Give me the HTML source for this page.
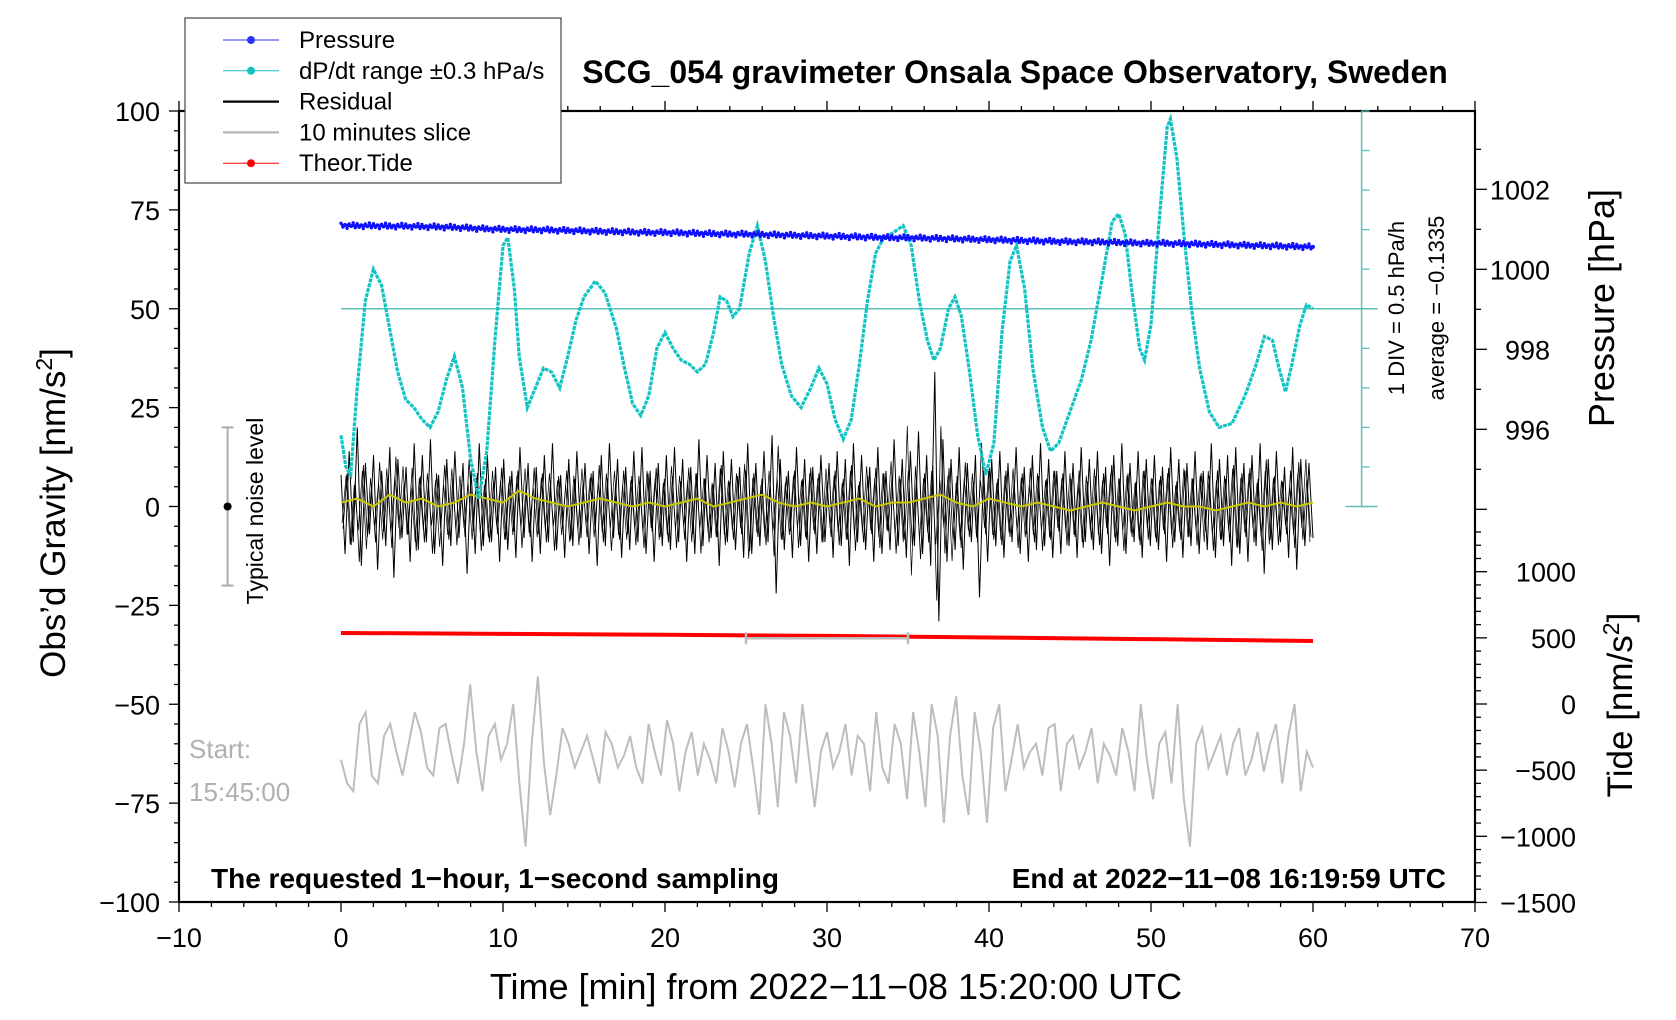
<!DOCTYPE html>
<html><head><meta charset="utf-8"><style>
html,body{margin:0;padding:0;background:#fff}
svg{display:block;font-family:"Liberation Sans",Arial,sans-serif}
</style></head><body>
<svg id="chart" width="1676" height="1020" viewBox="0 0 1676 1020">
<g id="layers"></g>
</svg>
<script>
const dpdtT=[0,0.3,0.6,1,1.5,2,2.5,3,3.5,4,4.5,5,5.5,6,6.5,7,7.5,8,8.5,9,9.5,10,10.3,10.7,11,11.5,12,12.5,13,13.5,14,14.5,15,15.7,16.3,17,17.5,18,18.5,19,19.5,20,20.5,21,21.5,22,22.5,23,23.4,23.8,24.2,24.6,25.2,25.7,26.2,26.7,27.2,27.8,28.4,29,29.5,30,30.5,31,31.5,32,32.5,33,33.5,34,34.7,35.2,35.7,36.2,36.6,37,37.5,37.9,38.3,38.8,39.3,39.8,40.3,40.8,41.3,41.7,42.2,42.7,43.3,43.8,44.3,45,45.7,46.3,47,47.6,48,48.4,48.8,49.3,49.6,50,50.5,51,51.2,51.6,52,52.5,53,53.6,54.2,55,55.8,56.5,57,57.5,57.9,58.3,58.7,59.2,59.6,60];
const dpdtV=[18,10,8,30,52,60,56,45,34,27,25,22,20,24,32,38,30,12,2,14,42,66,68,55,38,25,30,35,34,30,38,47,53,57,54,45,35,26,23,28,40,44,40,37,36,34,36,44,53,52,48,50,64,71,62,48,36,28,25,30,35,31,22,17,22,36,52,64,68,69,71,66,52,42,37,40,50,53,48,34,18,8,16,44,62,66,55,35,20,14,16,24,32,42,58,72,74,69,55,40,37,46,72,96,98,88,70,50,35,24,20,21,28,36,43,42,35,29,36,46,51,50];
const pressure=[1001.10,1001.09,1001.09,1001.08,1001.08,1001.07,1001.06,1001.05,1001.03,1001.01,1001.00,1000.99,1000.99,1000.98,1000.97,1000.96,1000.95,1000.94,1000.93,1000.92,1000.92,1000.91,1000.90,1000.89,1000.88,1000.88,1000.87,1000.86,1000.85,1000.84,1000.83,1000.82,1000.81,1000.80,1000.79,1000.79,1000.78,1000.77,1000.76,1000.75,1000.74,1000.73,1000.72,1000.71,1000.70,1000.69,1000.69,1000.68,1000.67,1000.66,1000.65,1000.65,1000.64,1000.63,1000.62,1000.61,1000.60,1000.59,1000.58,1000.57,1000.56];
const residual=[8,-12,14,-9,20,-15,11,-7,13,-16,9,-10,15,-18,12,-8,10,-14,16,-11,
13,-9,17,-12,8,-15,12,-10,14,-8,11,-17,9,-12,16,-10,13,-9,10,-14,
12,-11,9,-13,15,-8,11,-14,10,-12,13,-9,16,-11,8,-13,12,-10,14,-8,
11,-12,9,-15,13,-10,16,-8,12,-13,10,-11,14,-9,15,-12,9,-14,11,-10,
13,-11,15,-9,12,-14,10,-12,17,-10,13,-8,11,-15,14,-9,12,-11,10,-13,
16,-12,11,-10,14,-9,18,-22,12,-11,9,-13,15,-10,12,-14,10,-12,13,-9,
11,-13,14,-10,12,-15,16,-9,13,-11,10,-14,15,-12,9,-11,17,-10,12,-13,
14,-10,19,-12,13,-15,34,-29,17,-14,12,-11,15,-16,11,-9,13,-23,10,-14,
12,-10,14,-13,11,-9,15,-12,10,-14,13,-11,16,-10,12,-13,9,-12,14,-10,
11,-13,15,-9,12,-11,14,-12,10,-15,13,-10,16,-12,11,-9,14,-13,12,-10,
13,-11,10,-14,15,-9,12,-13,11,-10,14,-12,9,-11,16,-13,12,-10,13,-15,
15,-12,11,-14,13,-10,16,-17,12,-11,14,-9,10,-13,15,-16,12,-10,11,-8];
const smooth=[1,2,0,3,1,2,0,1,3,2,1,4,2,1,0,1,2,1,0,1,0,1,2,0,1,2,3,1,0,1,0,1,2,0,1,1,2,3,1,0,2,1,0,1,0,-1,0,1,0,-1,0,1,0,0,-1,0,1,0,1,0,1];
const slice=[-64,-70,-72,-55,-52,-68,-70,-58,-55,-62,-68,-60,-52,-57,-66,-68,-56,-55,-63,-70,-60,-45,-62,-72,-58,-55,-64,-60,-50,-70,-86,-60,-43,-65,-78,-68,-56,-60,-66,-62,-58,-64,-70,-57,-60,-66,-63,-58,-66,-70,-55,-62,-68,-54,-60,-72,-62,-57,-68,-60,-64,-70,-56,-62,-71,-60,-55,-66,-78,-50,-60,-76,-52,-58,-70,-50,-63,-76,-62,-57,-66,-62,-55,-68,-58,-60,-72,-52,-66,-70,-55,-60,-74,-52,-62,-76,-50,-58,-80,-58,-48,-68,-78,-52,-62,-80,-56,-50,-72,-64,-55,-66,-62,-60,-68,-56,-55,-72,-60,-58,-66,-62,-56,-70,-60,-63,-68,-56,-62,-72,-50,-64,-74,-60,-57,-70,-50,-74,-86,-60,-56,-66,-62,-58,-68,-60,-56,-68,-64,-57,-67,-60,-55,-70,-58,-50,-72,-62,-66];
const tideT=[0,10,20,30,40,50,60];
const tideV=[537,530,523,515,503,490,476];
const xTicks=[-10,0,10,20,30,40,50,60,70];
const yTicks=[-100,-75,-50,-25,0,25,50,75,100];
const pTicks=[996,998,1000,1002];
const tTicks=[-1500,-1000,-500,0,500,1000];

const L=179,R=1475,T=111,B=902;
const X=v=>L+(v+10)*(R-L)/80;
const Y=v=>B-(v+100)*(B-T)/200;
const PY=p=>269.3-(p-1000)*40;
const TY=t=>704-t*0.1323;
const NS='http://www.w3.org/2000/svg';
const root=document.getElementById('layers');
function mk(tag,attrs,parent){const e=document.createElementNS(NS,tag);for(const k in attrs)e.setAttribute(k,attrs[k]);(parent||root).appendChild(e);return e;}
function txt(s,attrs,parent){const e=mk('text',attrs,parent);e.textContent=s;return e;}

let g=mk('g',{});


mk('rect',{x:L,y:T,width:R-L,height:B-T,fill:'none',stroke:'#000','stroke-width':2.2},g);

let xa=mk('g',{});


for(let v=-10;v<=70;v+=2){const maj=v%10===0;const x=X(v);
 mk('line',{x1:x,y1:B,x2:x,y2:B+(maj?10:5),stroke:'#000','stroke-width':1.3},xa);
 mk('line',{x1:x,y1:T,x2:x,y2:T-(maj?10:5),stroke:'#000','stroke-width':1.3},xa);}
xTicks.forEach(v=>{const t=txt(String(v).replace('-','\u2212'),{x:X(v),y:B+45,'text-anchor':'middle','font-size':27},xa);
 
 });
let xt=txt('Time [min] from 2022\u221211\u221208 15:20:00 UTC',{x:836,y:999,'text-anchor':'middle','font-size':36},xa);



let ya=mk('g',{});


for(let v=-100;v<=100;v+=5){const maj=v%25===0;const y=Y(v);
 mk('line',{x1:L,y1:y,x2:L-(maj?10:5),y2:y,stroke:'#000','stroke-width':1.3},ya);}
yTicks.forEach(v=>{const t=txt(String(v).replace('-','\u2212'),{x:L-19,y:Y(v)+10,'text-anchor':'end','font-size':27},ya);
 
 });
let yt=mk('text',{transform:'translate(65,513) rotate(-90)','text-anchor':'middle','font-size':35},ya);
yt.innerHTML='Obs\u2019d Gravity [nm/s<tspan dy="-13" font-size="23">2</tspan><tspan dy="13">]</tspan>';



let pa=mk('g',{});


for(let p=994;p<=1004;p+=1){const y=PY(p);if(y<T||y>B)continue;const maj=p%2===0;
 mk('line',{x1:R,y1:y,x2:R+(maj?12:6),y2:y,stroke:'#000','stroke-width':1.3},pa);}
pTicks.forEach(p=>{const t=txt(String(p),{x:1550,y:PY(p)+10,'text-anchor':'end','font-size':27},pa);
 
 });
let pt=txt('Pressure [hPa]',{transform:'translate(1614,308) rotate(-90)','text-anchor':'middle','font-size':36},pa);



let ta=mk('g',{});


for(let t=-1500;t<=1400;t+=100){const y=TY(t);if(y<520)continue;const maj=t%500===0;
 mk('line',{x1:R,y1:y,x2:R+(maj?12:6),y2:y,stroke:'#000','stroke-width':1.3},ta);}
tTicks.forEach(v=>{const t=txt(String(v).replace('-','\u2212'),{x:1576,y:TY(v)+10,'text-anchor':'end','font-size':27},ta);
 
 });
let tt=mk('text',{transform:'translate(1632,705) rotate(-90)','text-anchor':'middle','font-size':35},ta);
tt.innerHTML='Tide [nm/s<tspan dy="-13" font-size="23">2</tspan><tspan dy="13">]</tspan>';



let da=mk('g',{});


const ax=X(63);
mk('line',{x1:ax,y1:T,x2:ax,y2:Y(0),stroke:'#5bbfba','stroke-width':1.5},da);
for(let v=0;v<=100;v+=10)mk('line',{x1:ax,y1:Y(v),x2:ax+8,y2:Y(v),stroke:'#5bbfba','stroke-width':1.3},da);
mk('line',{x1:ax-16,y1:Y(0),x2:ax+16,y2:Y(0),stroke:'#5bbfba','stroke-width':1.5},da);
mk('line',{x1:X(0),y1:Y(50),x2:ax+16,y2:Y(50),stroke:'#5bbfba','stroke-width':1.5},da);
txt('1 DIV = 0.5 hPa/h',{transform:'translate(1404,308) rotate(-90)','text-anchor':'middle','font-size':22},da);
txt('average = \u22120.1335',{transform:'translate(1444,308) rotate(-90)','text-anchor':'middle','font-size':22},da);

let rs=mk('g',{});


const n=residual.length;
mk('polyline',{points:residual.map((v,i)=>X(i*60/(n-1))+','+Y(v)).join(' '),fill:'none',stroke:'#000','stroke-width':1},rs);
mk('polyline',{points:residual.map((v,i)=>X((i+0.5)*60/(n-1))+','+Y(-v*0.7)).slice(0,-1).join(' '),fill:'none',stroke:'#000','stroke-width':0.8},rs);
mk('polyline',{points:residual.map((v,i)=>X((i+0.25)*60/(n-1))+','+Y(residual[(i+7)%n]*0.6)).slice(0,-1).join(' '),fill:'none',stroke:'#000','stroke-width':0.7},rs);
let sm=mk('polyline',{points:smooth.map((v,i)=>X(i)+','+Y(v)).join(' '),fill:'none',stroke:'#c8c800','stroke-width':2});



let cy=mk('polyline',{points:dpdtT.map((t,i)=>X(t)+','+Y(dpdtV[i])).join(' '),fill:'none',stroke:'#13c3c3','stroke-width':3.2,'stroke-dasharray':'4 1'});



let ps=mk('g',{fill:'#1010ff'});


const offs=[0.05,-0.04,0.02,-0.07,0.04,-0.02,0.07,-0.05];
pressure.forEach((p,i)=>{if(i===pressure.length-1){mk('circle',{cx:X(i),cy:PY(p),r:2},ps);return;}
 const nx2=pressure[i+1];offs.forEach((o,k)=>{const f=k/offs.length;mk('circle',{cx:X(i+f),cy:PY(p+(nx2-p)*f+o),r:1.7},ps);});});
mk('polyline',{points:pressure.map((p,i)=>X(i)+','+PY(p)).join(' '),fill:'none',stroke:'#1010ff','stroke-width':3},ps);

let td=mk('polyline',{points:tideT.map((t,i)=>X(t)+','+TY(tideV[i])).join(' '),fill:'none',stroke:'#ff0000','stroke-width':4});



let smk=mk('g',{stroke:'#bbb','stroke-width':2.5});


const my=Y(-33.3);
mk('line',{x1:X(25),y1:my,x2:X(35),y2:my},smk);
mk('line',{x1:X(25),y1:my-6,x2:X(25),y2:my+6},smk);
mk('line',{x1:X(35),y1:my-6,x2:X(35),y2:my+6},smk);

let gs=mk('polyline',{points:slice.map((v,i)=>X(i*60/(slice.length-1))+','+Y(v)).join(' '),fill:'none',stroke:'#bdbdbd','stroke-width':2});



let nb=mk('g',{stroke:'#aaa','stroke-width':2});


const nx=X(-7);
mk('line',{x1:nx,y1:Y(20),x2:nx,y2:Y(-20)},nb);
mk('line',{x1:nx-6,y1:Y(20),x2:nx+6,y2:Y(20)},nb);
mk('line',{x1:nx-6,y1:Y(-20),x2:nx+6,y2:Y(-20)},nb);
mk('circle',{cx:nx,cy:Y(0),r:4,fill:'#000',stroke:'none'},nb);
txt('Typical noise level',{transform:'translate(263,511) rotate(-90)','text-anchor':'middle','font-size':23,fill:'#000',stroke:'none'},nb);

txt('Start:',{x:189,y:758,'font-size':26,fill:'#b0b0b0'});
txt('15:45:00',{x:189,y:801,'font-size':26,fill:'#b0b0b0'});
txt('The requested 1\u2212hour, 1\u2212second sampling',{x:211,y:888,'font-size':28,'font-weight':'bold'});
txt('End at 2022\u221211\u221208 16:19:59 UTC',{x:1446,y:888,'font-size':28,'font-weight':'bold','text-anchor':'end'});
let ti=txt('SCG_054 gravimeter Onsala Space Observatory, Sweden',{x:1015,y:83,'font-size':32,'font-weight':'bold','text-anchor':'middle'});



let lg=mk('g',{});


mk('rect',{x:185,y:18,width:376,height:165,fill:'#fff',stroke:'#444','stroke-width':1.2},lg);
const legNames=['Pressure','dP/dt range \u00b10.3 hPa/s','Residual','10 minutes slice','Theor.Tide'];
const legCols=['#3030ff','#13c3c3','#000','#bbb','#ff0000'];
const legDot=[true,true,false,false,true];
const legW=[1,1,2.2,2.5,1];
legNames.forEach((nm,i)=>{const y=40+i*30.8;
 const e=mk('g',{},lg);
 
 
 mk('line',{x1:223,y1:y,x2:279,y2:y,stroke:legCols[i],'stroke-width':legW[i]},e);
 if(legDot[i])mk('circle',{cx:251,cy:y,r:4,fill:legCols[i]},e);
 txt(nm,{x:299,y:y+8,'font-size':24},e);});
</script>
</body></html>
